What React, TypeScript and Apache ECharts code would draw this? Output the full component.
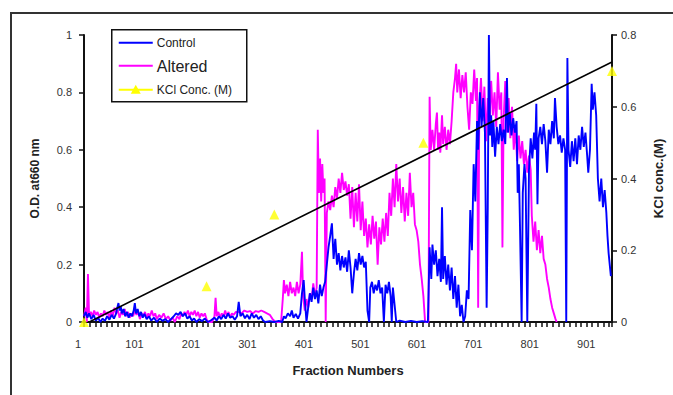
import React, { useEffect, useRef } from "react";
import * as echarts from "echarts";

// [fraction number, O.D. at 660 nm]
const controlData: number[][] = [
  [1,0.02],[4,0.035],[7,0.015],[10,0.03],[14,0.01],[18,0.025],[22,0.005],[26,0.015],[30,0.0],[34,0.012],[38,0.004],[42,0.02],[46,0.008],[50,0.025],[54,0.012],[58,0.03],[60,0.05],[62,0.066],[64,0.04],[66,0.055],[68,0.03],[71,0.045],[74,0.02],[77,0.035],[80,0.015],[83,0.03],[86,0.02],[89,0.04],[91,0.066],[93,0.03],[96,0.045],[99,0.02],[102,0.035],[105,0.015],[108,0.028],[112,0.01],[116,0.02],[120,0.005],[125,0.015],[130,0.0],[135,0.012],[140,0.004],[145,0.01],[150,0.0],[155,0.01],[160,0.02],[164,0.03],[168,0.025],[172,0.035],[176,0.02],[180,0.03],[184,0.012],[188,0.02],[192,0.005],[196,0.012],[200,0.0],[205,0.01],[210,0.003],[215,0.012],[220,0.0],[226,0.006],[232,0.015],[236,0.005],[240,0.02],[244,0.01],[248,0.025],[252,0.012],[256,0.03],[260,0.015],[264,0.02],[268,0.008],[272,0.02],[275,0.07],[278,0.02],[282,0.03],[286,0.013],[290,0.025],[294,0.01],[298,0.03],[302,0.015],[306,0.025],[310,0.01],[314,0.02],[318,0.005],[322,0.0],[330,0.003],[338,0.0],[346,0.004],[352,0.0],[355,0.02],[358,0.013],[362,0.03],[366,0.02],[369,0.04],[372,0.015],[376,0.028],[380,0.012],[384,0.03],[387,0.1],[390,0.146],[392,0.08],[395,0.0],[398,0.05],[401,0.1],[404,0.07],[407,0.12],[410,0.08],[413,0.11],[416,0.065],[419,0.13],[422,0.09],[425,0.12],[428,0.14],[431,0.2],[434,0.26],[437,0.3],[440,0.344],[443,0.22],[446,0.29],[449,0.2],[452,0.24],[455,0.18],[458,0.23],[461,0.19],[464,0.225],[467,0.175],[470,0.25],[473,0.19],[476,0.1],[479,0.17],[482,0.22],[485,0.18],[488,0.24],[491,0.2],[494,0.23],[497,0.19],[500,0.21],[503,0.04],[506,0.0],[508,0.12],[511,0.14],[514,0.1],[517,0.13],[520,0.11],[523,0.146],[526,0.1],[529,0.12],[532,0.0],[535,0.13],[538,0.1],[541,0.14],[544,0.09],[546,0.0],[548,0.12],[551,0.06],[554,0.0],[560,0.005],[570,0.0],[580,0.004],[590,0.0],[600,0.003],[610,0.0],[613,0.26],[616,0.15],[618,0.27],[621,0.2],[624,0.25],[627,0.16],[630,0.22],[633,0.14],[635,0.4],[637,0.15],[640,0.23],[643,0.13],[646,0.2],[649,0.11],[652,0.19],[655,0.08],[658,0.16],[661,0.05],[664,0.13],[667,0.02],[670,0.06],[673,0.0],[676,0.02],[679,0.11],[682,0.08],[685,0.39],[688,0.25],[691,0.55],[694,0.42],[697,0.7],[699,0.6],[702,0.8],[705,0.68],[708,0.78],[711,0.66],[714,0.05],[716,0.4],[718,1.0],[720,0.65],[722,0.72],[724,0.61],[726,0.7],[729,0.576],[732,0.68],[735,0.62],[738,0.69],[741,0.63],[744,0.67],[747,0.62],[750,0.85],[752,0.66],[755,0.73],[758,0.65],[761,0.71],[764,0.66],[767,0.7],[769,0.45],[771,0.55],[773,0.34],[776,0.0],[778,0.45],[781,0.55],[783,0.5],[786,0.0],[789,0.53],[792,0.64],[795,0.57],[798,0.66],[800,0.6],[802,0.76],[804,0.41],[806,0.64],[809,0.68],[812,0.62],[815,0.69],[818,0.63],[821,0.52],[824,0.67],[827,0.62],[830,0.7],[833,0.64],[835,0.78],[838,0.68],[841,0.62],[844,0.65],[847,0.59],[850,0.64],[853,0.6],[855,0.0],[857,0.92],[859,0.6],[862,0.54],[865,0.63],[868,0.56],[871,0.64],[874,0.55],[877,0.65],[880,0.6],[883,0.68],[886,0.61],[889,0.66],[892,0.58],[894,0.52],[897,0.6],[900,0.83],[902,0.74],[905,0.8],[908,0.72],[911,0.5],[914,0.42],[917,0.5],[920,0.4],[923,0.46],[926,0.38],[928,0.3],[930,0.24],[932,0.2],[934,0.16]
];

const alteredData: number[][] = [
  [1,0.02],[4,0.05],[6,0.0],[8,0.167],[10,0.02],[13,0.035],[16,0.02],[19,0.04],[22,0.025],[25,0.035],[28,0.015],[31,0.03],[34,0.02],[37,0.04],[40,0.025],[43,0.035],[46,0.015],[49,0.04],[52,0.02],[55,0.05],[58,0.03],[61,0.04],[64,0.015],[67,0.035],[70,0.025],[73,0.045],[76,0.02],[79,0.035],[82,0.015],[85,0.03],[88,0.02],[91,0.04],[94,0.025],[97,0.035],[100,0.01],[103,0.03],[106,0.02],[109,0.035],[112,0.015],[115,0.03],[118,0.02],[121,0.04],[124,0.02],[127,0.03],[130,0.01],[134,0.025],[138,0.015],[142,0.03],[146,0.01],[150,0.02],[154,0.005],[158,0.015],[162,0.0],[166,0.02],[170,0.01],[173,0.03],[176,0.02],[179,0.035],[182,0.025],[185,0.04],[188,0.02],[191,0.035],[194,0.025],[197,0.04],[200,0.02],[203,0.035],[206,0.015],[209,0.03],[212,0.02],[215,0.03],[218,0.01],[221,0.0],[228,0.0],[232,0.02],[234,0.084],[236,0.02],[239,0.035],[242,0.015],[245,0.03],[248,0.02],[251,0.04],[254,0.02],[257,0.035],[260,0.015],[263,0.03],[266,0.025],[270,0.035],[275,0.035],[280,0.03],[285,0.04],[290,0.035],[295,0.038],[300,0.03],[305,0.038],[310,0.035],[315,0.04],[320,0.035],[325,0.03],[330,0.025],[335,0.01],[340,0.0],[350,0.0],[353,0.08],[355,0.146],[357,0.1],[360,0.13],[363,0.09],[366,0.14],[369,0.1],[372,0.12],[375,0.09],[378,0.14],[381,0.1],[384,0.13],[387,0.245],[389,0.09],[392,0.04],[395,0.08],[398,0.05],[401,0.1],[404,0.08],[407,0.135],[410,0.09],[413,0.12],[415,0.67],[417,0.45],[419,0.57],[421,0.42],[423,0.55],[425,0.45],[427,0.5],[429,0.0],[431,0.38],[434,0.42],[437,0.39],[440,0.44],[443,0.4],[446,0.47],[449,0.43],[452,0.5],[455,0.45],[458,0.52],[461,0.46],[464,0.49],[467,0.44],[470,0.48],[473,0.36],[476,0.47],[479,0.33],[482,0.45],[485,0.35],[488,0.48],[491,0.32],[494,0.42],[497,0.3],[500,0.36],[503,0.26],[506,0.34],[509,0.27],[512,0.37],[515,0.29],[518,0.35],[521,0.2],[524,0.33],[527,0.27],[530,0.36],[533,0.28],[536,0.38],[539,0.3],[542,0.45],[545,0.37],[548,0.5],[551,0.4],[554,0.55],[557,0.42],[560,0.5],[563,0.38],[566,0.47],[569,0.35],[572,0.45],[575,0.37],[578,0.52],[581,0.4],[584,0.45],[587,0.34],[590,0.32],[593,0.28],[596,0.2],[599,0.15],[602,0.09],[605,0.0],[611,0.0],[613,0.785],[615,0.6],[618,0.67],[621,0.6],[624,0.69],[626,0.73],[628,0.6],[630,0.66],[632,0.59],[635,0.72],[637,0.62],[640,0.68],[643,0.6],[646,0.67],[649,0.62],[652,0.7],[655,0.8],[658,0.85],[660,0.9],[662,0.8],[665,0.88],[668,0.78],[671,0.86],[674,0.8],[677,0.87],[680,0.75],[683,0.67],[686,0.8],[689,0.76],[692,0.88],[695,0.77],[697,0.85],[699,0.05],[701,0.75],[704,0.85],[707,0.7],[710,0.82],[713,0.63],[716,0.78],[719,0.7],[722,0.84],[725,0.72],[728,0.8],[731,0.68],[734,0.87],[737,0.74],[740,0.8],[742,0.26],[744,0.7],[747,0.84],[750,0.66],[753,0.78],[756,0.64],[759,0.75],[762,0.6],[765,0.68],[768,0.56],[771,0.65],[774,0.57],[777,0.63],[780,0.55],[783,0.6],[786,0.52],[789,0.58],[792,0.53],[794,0.37],[797,0.28],[800,0.35],[803,0.25],[806,0.32],[809,0.24],[812,0.3],[815,0.22],[818,0.2],[821,0.15],[824,0.12],[827,0.08],[830,0.05],[833,0.03],[836,0.01],[838,0.0]
];

const kclFractions: number[] = [1, 218, 338, 602, 936];
const kclConc: number[] = [0, 0.1, 0.3, 0.5, 0.7];

const odTicks = { min: 0, max: 1, interval: 0.2 };
const kclTicks = { min: 0, max: 0.8, interval: 0.2 };
const fractionAxis = { first: 1, last: 936, step: 100 };

// linear trendline of the KCl points (least squares)
function trend(xs: number[], ys: number[]) {
  const n = xs.length;
  const mx = xs.reduce((a, b) => a + b, 0) / n;
  const my = ys.reduce((a, b) => a + b, 0) / n;
  let sxy = 0, sxx = 0;
  for (let i = 0; i < n; i++) {
    sxy += (xs[i] - mx) * (ys[i] - my);
    sxx += (xs[i] - mx) * (xs[i] - mx);
  }
  const slope = sxy / sxx;
  const icpt = my - slope * mx;
  return (x: number) => icpt + slope * x;
}

export default function App() {
  const ref = useRef<HTMLDivElement>(null);
  useEffect(() => {
    if (!ref.current) return;
    const chart = echarts.init(ref.current, undefined, { renderer: "svg" });
    const toX = (f: number) => f - fractionAxis.first;
    const fit = trend(kclFractions, kclConc);
    const trendData = [fractionAxis.first, fractionAxis.last].map((f) => [toX(f), fit(f)]);
    const axisColor = "#111";
    const font = "Arial, Liberation Sans, sans-serif";
    const labelStyle = { color: "#333", fontSize: 11, fontFamily: font };

    chart.setOption({
      animation: false,
      backgroundColor: "#fff",
      grid: { left: 84, right: 60, top: 35, bottom: 73, containLabel: false },
      xAxis: {
        type: "value",
        min: 0,
        max: toX(fractionAxis.last),
        interval: fractionAxis.step,
        name: "Fraction Numbers",
        nameLocation: "middle",
        nameGap: 42,
        nameTextStyle: { fontSize: 13, fontWeight: "bold", color: "#222", fontFamily: font },
        axisLine: { show: true, onZero: false, lineStyle: { color: axisColor, width: 2 } },
        axisTick: { show: true, length: 5, lineStyle: { color: axisColor, width: 1.5 } },
        minorTick: { show: true, splitNumber: 10, length: 5, lineStyle: { color: axisColor, width: 1.5 } },
        axisLabel: {
          ...labelStyle,
          margin: 16,
          padding: [0, 12, 0, 0],
          showMaxLabel: false,
          formatter: (v: number) => String(v + fractionAxis.first),
        },
        splitLine: { show: false },
        minorSplitLine: { show: false },
      },
      yAxis: [
        {
          type: "value",
          ...odTicks,
          name: "O.D. at660 nm",
          nameLocation: "middle",
          nameGap: 43,
          nameTextStyle: { fontSize: 12, fontWeight: "bold", color: "#222", fontFamily: font },
          axisLine: { show: true, lineStyle: { color: axisColor, width: 2 } },
          axisTick: { show: true, length: 5, lineStyle: { color: axisColor, width: 1.5 } },
          axisLabel: { ...labelStyle, margin: 12 },
          splitLine: { show: false },
        },
        {
          type: "value",
          position: "right",
          ...kclTicks,
          name: "KCl conc.(M)",
          nameLocation: "middle",
          nameGap: 40,
          nameTextStyle: { fontSize: 13, fontWeight: "bold", color: "#222", fontFamily: font },
          axisLine: { show: true, lineStyle: { color: axisColor, width: 2 } },
          axisTick: { show: true, length: 5, lineStyle: { color: axisColor, width: 1.5 } },
          axisLabel: { ...labelStyle, margin: 9 },
          splitLine: { show: false },
        },
      ],
      series: [
        {
          name: "Altered",
          type: "line",
          yAxisIndex: 0,
          showSymbol: false,
          symbol: "none",
          lineStyle: { color: "#ff00ff", width: 1.9 },
          data: alteredData.map(([f, v]) => [toX(f), v]),
        },
        {
          name: "Control",
          type: "line",
          yAxisIndex: 0,
          showSymbol: false,
          symbol: "none",
          lineStyle: { color: "#0000ff", width: 1.9 },
          data: controlData.map(([f, v]) => [toX(f), v]),
        },
        {
          name: "KCl Conc. (M)",
          type: "scatter",
          yAxisIndex: 1,
          symbol: "triangle",
          symbolSize: 10,
          clip: false,
          itemStyle: { color: "#ffff00" },
          data: kclFractions.map((f, i) => [toX(f), kclConc[i]]),
          z: 3,
        },
        {
          name: "Trend",
          type: "line",
          yAxisIndex: 1,
          symbol: "none",
          lineStyle: { color: "#000", width: 1.6 },
          data: trendData,
          z: 4,
        },
      ],
      graphic: [
        {
          type: "rect",
          shape: { x: 11, y: 13, width: 700, height: 420 },
          style: { fill: "none", stroke: "#333", lineWidth: 2 },
          silent: true,
        },
        {
          type: "group",
          left: 111,
          top: 29,
          children: [
            { type: "rect", shape: { x: 0, y: 0, width: 135, height: 72 }, style: { fill: "#fff", stroke: "#111", lineWidth: 1.5 } },
            { type: "line", shape: { x1: 7, y1: 13, x2: 41, y2: 13 }, style: { stroke: "#0000ff", lineWidth: 2 } },
            { type: "text", x: 45, y: 13, style: { text: "Control", fontSize: 12, fill: "#222", fontFamily: font, verticalAlign: "middle" } },
            { type: "line", shape: { x1: 7, y1: 36, x2: 41, y2: 36 }, style: { stroke: "#ff00ff", lineWidth: 2 } },
            { type: "text", x: 45, y: 37, style: { text: "Altered", fontSize: 16, fill: "#222", fontFamily: font, verticalAlign: "middle" } },
            { type: "line", shape: { x1: 7, y1: 60, x2: 41, y2: 60 }, style: { stroke: "#ffff00", lineWidth: 2 } },
            { type: "polygon", shape: { points: [[24, 55], [29, 64], [19, 64]] }, style: { fill: "#ffff00" } },
            { type: "text", x: 45, y: 60, style: { text: "KCl Conc. (M)", fontSize: 12, fill: "#222", fontFamily: font, verticalAlign: "middle" } },
          ],
        },
      ],
    });
    return () => chart.dispose();
  }, []);
  return (
    <div
      ref={ref}
      style={{ position: "fixed", left: 0, top: 0, width: 673, height: 395, background: "#fff" }}
    />
  );
}
